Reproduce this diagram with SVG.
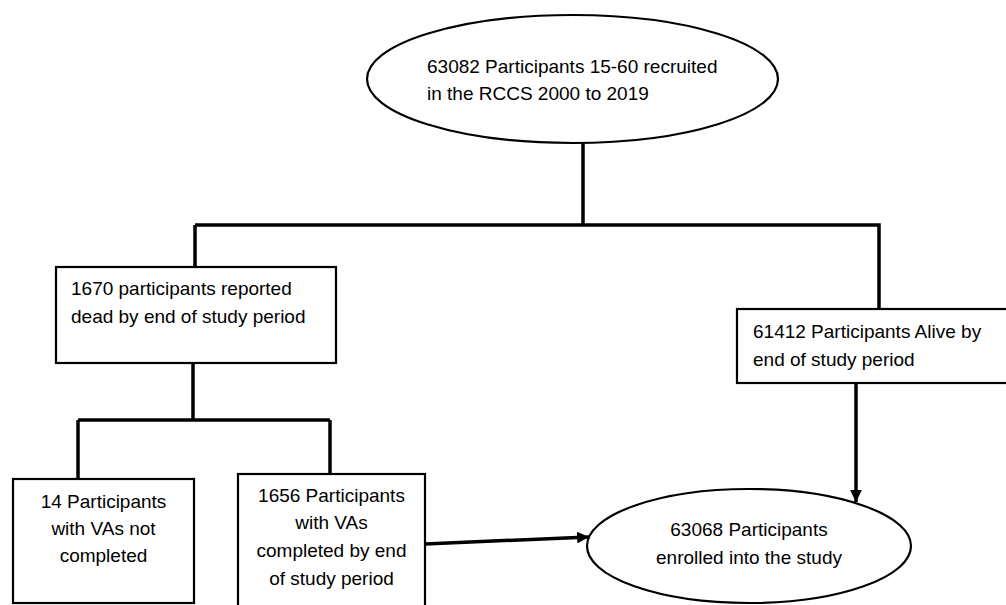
<svg xmlns="http://www.w3.org/2000/svg" width="1006" height="605" viewBox="0 0 1006 605">
<style>
.box{fill:#fff;stroke:#000;stroke-width:2.2}
.con{fill:none;stroke:#000;stroke-width:3.5}
text{font-family:"Liberation Sans",Arial,sans-serif;font-size:19px;fill:#000}
.c{text-anchor:middle}
</style>
<defs>
<marker id="ah" viewBox="0 0 10 10" refX="10" refY="5" markerWidth="3.4" markerHeight="3.4" orient="auto" markerUnits="strokeWidth">
<path d="M0,0 L10,5 L0,10 Z" fill="#000"/>
</marker>
</defs>
<rect width="1006" height="605" fill="#fff"/>
<g id="connectors">
<path class="con" d="M583,143 V225"/>
<path class="con" d="M195,225 H879 V309"/>
<path class="con" d="M195,225 V267"/>
<path class="con" d="M193,363 V420"/>
<path class="con" d="M78,420 H330"/>
<path class="con" d="M78,420 V479"/>
<path class="con" d="M330,420 V474"/>
<path class="con" d="M856,383 V502" marker-end="url(#ah)"/>
<path class="con" d="M425,544 L589,537" marker-end="url(#ah)"/>
</g>
<g id="recruited">
<ellipse class="box" cx="572.5" cy="79" rx="205.5" ry="64"/>
<text x="427" y="73">63082 Participants 15-60 recruited</text>
<text x="427" y="100">in the RCCS 2000 to 2019</text>
</g>
<g id="dead">
<rect class="box" x="56" y="267" width="280" height="96"/>
<text x="71" y="295">1670 participants reported</text>
<text x="71" y="323">dead by end of study period</text>
</g>
<g id="alive">
<rect class="box" x="737" y="309" width="290" height="74"/>
<text x="753" y="338">61412 Participants Alive by</text>
<text x="753" y="366">end of study period</text>
</g>
<g id="not-completed">
<rect class="box" x="13" y="479" width="181" height="124"/>
<text class="c" x="103.5" y="508">14 Participants</text>
<text class="c" x="103.5" y="535">with VAs not</text>
<text class="c" x="103.5" y="562">completed</text>
</g>
<g id="completed">
<rect class="box" x="238" y="474" width="187" height="140"/>
<text class="c" x="331.5" y="502">1656 Participants</text>
<text class="c" x="331.5" y="529">with VAs</text>
<text class="c" x="331.5" y="557">completed by end</text>
<text class="c" x="331.5" y="585">of study period</text>
</g>
<g id="enrolled">
<ellipse class="box" cx="749" cy="546" rx="162" ry="57"/>
<text class="c" x="749" y="536">63068 Participants</text>
<text class="c" x="749" y="564">enrolled into the study</text>
</g>
</svg>
